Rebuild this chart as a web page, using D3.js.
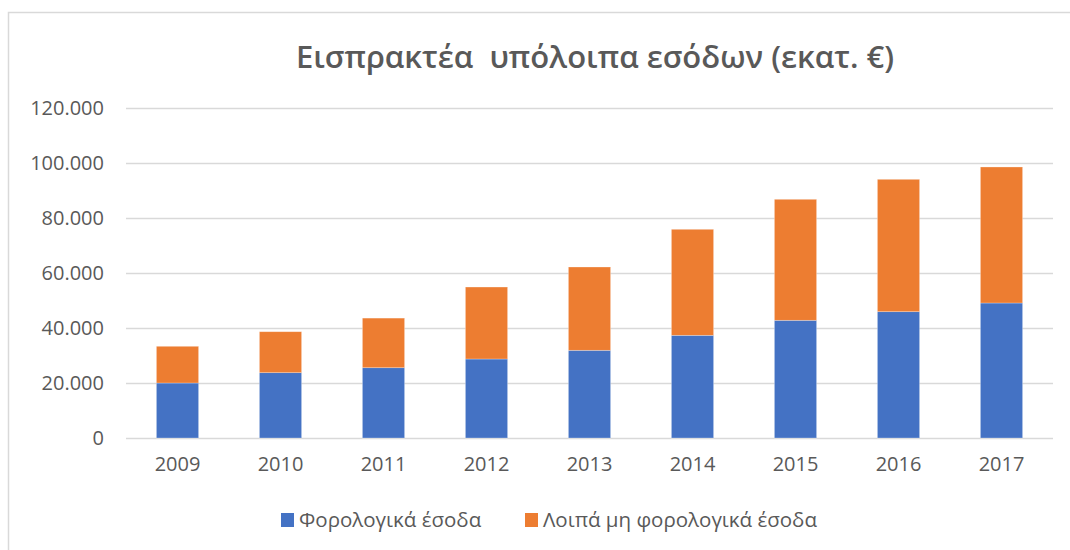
<!DOCTYPE html>
<html>
<head>
<meta charset="utf-8">
<script src="https://cdn.jsdelivr.net/npm/d3@7"></script>
<style>
body { margin: 0; background: #fff; }
svg text { font-family: "Open Sans", "Noto Sans", sans-serif; fill: #595959; }
</style>
</head>
<body>
<div class="chart"></div>
<script>
var years = ['2009', '2010', '2011', '2012', '2013', '2014', '2015', '2016', '2017'];
var taxRevenue = [20000, 23750, 25560, 28730, 31890, 37340, 42800, 45930, 49090];
var nonTaxRevenue = [13350, 14900, 18040, 26170, 30290, 38550, 44000, 48140, 49460];
var yTicks = [0, 20000, 40000, 60000, 80000, 100000, 120000];
var seriesNames = ['Φορολογικά έσοδα', 'Λοιπά μη φορολογικά έσοδα'];
var colors = ['#4472C4', '#ED7D31'];

var width = 1070, height = 550;

var svg = d3.select(".chart")
    .append("svg")
    .attr("width", width)
    .attr("height", height)

// outer frame
svg.append("rect")
    .attr("x", 8.5)
    .attr("y", 12.5)
    .attr("width", 1100)
    .attr("height", 600)
    .attr("fill", "white")
    .attr("stroke", "#d9d9d9")
    .style("stroke-width", 1.5);

var x = d3.scaleBand()
    .domain(years)
    .range([126, 1053])
    .paddingInner(0.59)
    .paddingOuter(0.295);

var y = d3.scaleLinear()
    .domain([0, 120000])
    .range([438, 108]);

var fmt = function(d) {
    return d3.format(",")(d).replace(/,/g, ".");
}

// gridlines
var yAxis = d3.axisLeft(y)
    .tickValues(yTicks)
    .tickSize(-(1053 - 126))
    .tickPadding(22)
    .tickFormat(fmt);

var gy = svg.append("g")
    .attr("transform", "translate(126,0)")
    .call(yAxis);
gy.select(".domain").remove();
gy.selectAll(".tick line").attr("stroke", "#d9d9d9").style("stroke-width", 1.5);
gy.selectAll(".tick text").style("font-size", "20px").attr("fill", "#595959");

var xAxis = d3.axisBottom(x).tickSize(0).tickPadding(19);
var gx = svg.append("g")
    .attr("transform", "translate(0,438)")
    .call(xAxis);
gx.select(".domain").remove();
gx.selectAll(".tick text").style("font-size", "20px").attr("fill", "#595959");

var rows = years.map(function(d, i) {
    return { year: d, tax: taxRevenue[i], other: nonTaxRevenue[i] };
});

var stack = d3.stack().keys(['tax', 'other'])(rows);

svg.append("g").selectAll("g")
    .data(stack)
    .enter().append("g")
    .attr("fill", function(d, i) { return colors[i]; })
    .selectAll("rect")
    .data(function(d) { return d; })
    .enter().append("rect")
    .attr("x", function(d) { return x(d.data.year); })
    .attr("width", x.bandwidth())
    .attr("y", function(d) { return y(d[1]); })
    .attr("height", function(d) { return y(d[0]) - y(d[1]); })
    .attr("stroke", "white")
    .attr("stroke-opacity", 0.4)
    .style("stroke-width", 0.7);

svg.append("text")
    .attr("x", 595)
    .attr("y", 68)
    .attr("text-anchor", "middle")
    .style("font-size", "31px")
    .style("font-weight", "600")
    .style("white-space", "pre")
    .text("Εισπρακτέα  υπόλοιπα εσόδων (εκατ. €)");

var legendX = [281, 525];
var legendRow = svg.selectAll(".legendRow")
    .data(seriesNames)
    .enter().append("g")
    .attr("class", "legendRow")
    .attr("transform", function(d, i) {
        return "translate(" + legendX[i] + ", 513)";
    })

legendRow.append("rect")
    .attr("width", 13)
    .attr("height", 14)
    .attr("fill", function(d, i) { return colors[i]; })

legendRow.append("text")
    .attr("x", 18)
    .attr("y", 14)
    .style("font-size", "20.5px")
    .text(function(d) { return d; });
</script>
</body>
</html>
